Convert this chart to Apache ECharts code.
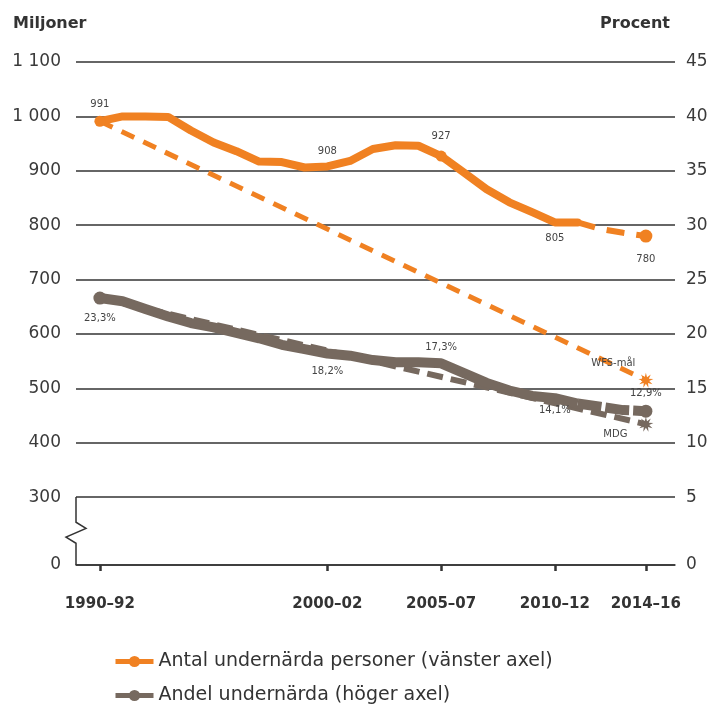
<!DOCTYPE html>
<html><head><meta charset="utf-8">
<script src="https://cdn.jsdelivr.net/npm/echarts@6.0.0/dist/echarts.min.js"></script>
<style>html,body{margin:0;padding:0;background:#fff}#c{width:716px;height:709px}</style>
</head><body><div id="c"></div>
<script>
// ---- data ----
const years = [1991,1992,1993,1994,1995,1996,1997,1998,1999,2000,2001,2002,2003,2004,2005,2006,2007,2008,2009,2010,2011,2012,2013,2014,2015];
const antal = [991,1000,1000,999,974,952,936,917,916,906,908,918,940,947,946,927,897,866,842,824,805,805,793,786,780];
const andel = [23.3,23.0,22.3,21.6,21.0,20.6,20.1,19.6,19.0,18.6,18.2,18.0,17.6,17.4,17.4,17.3,16.4,15.5,14.8,14.3,14.1,13.6,13.3,13.0,12.9];
const projectionFrom = 2012;
const periodYears = [1991, 2001, 2006, 2011, 2015];
const periodLabels = ['1990–92','2000–02','2005–07','2010–12','2014–16'];
const wfsYears = [1991, 2015];
const wfsTarget = [991, 515];
const mdgYears = [1991, 2015];
const mdgTarget = [23.3, 11.7];
const nameA = 'Antal undernärda personer (vänster axel)';
const nameB = 'Andel undernärda (höger axel)';

// ---- styles ----
const ORANGE = '#F08122', GRAY = '#76695F', INK = '#333333';
const FONT = 'DejaVu Sans';
const orangeMarks = [1991, 2006, 2015];
const grayMarks = [1991, 2015];
const orangeLabelPos = {1991:['top',6],2001:['top',9],2006:['top',9],2011:['bottom',10],2015:['bottom',12]};
const grayLabelPos = {1991:['bottom',9],2001:['bottom',12],2006:['top',10],2011:['bottom',6],2015:['top',6]};

function star(n, r1, r2){
  let d = '';
  for (let i = 0; i < n*2; i++){
    const a = Math.PI * i / n - Math.PI/2;
    const r = i % 2 ? r2 : r1;
    d += (i ? 'L' : 'M') + (50 + r*Math.cos(a)).toFixed(1) + ' ' + (50 + r*Math.sin(a)).toFixed(1);
  }
  return 'path://' + d + 'Z';
}
const ASTER = star(9, 50, 22);

function build(vals, from, to, marks, labelPos, fmt){
  const out = [];
  const last = years[years.length-1];
  years.forEach((y, i) => {
    if (y < from || y > to) return;
    const item = { value: [y, vals[i]] };
    const wantLabel = labelPos[y] && (to === last ? y >= from : y < projectionFrom);
    if (marks.includes(y)) { item.symbol = 'circle'; }
    else if (wantLabel) { item.symbol = 'circle'; item.symbolSize = 2; }
    else { item.symbol = 'none'; }
    if (wantLabel && (to !== last || y >= projectionFrom)) {
      item.label = { show: true, formatter: fmt(vals[i]), position: labelPos[y][0], distance: labelPos[y][1] };
    }
    out.push(item);
  });
  return out;
}
const fmtA = v => String(Math.round(v));
const fmtB = v => v.toFixed(1).replace('.', ',') + '%';
const labelStyle = { fontFamily: FONT, fontSize: 10, color: '#444' };

const chart = echarts.init(document.getElementById('c'), null, { renderer: 'canvas' });

const yLab = v => v >= 1000 ? Math.floor(v/1000) + ' ' + String(v % 1000).padStart(3, '0') : String(v);
const legendCommon = { orient: 'horizontal', left: 108, itemWidth: 38, itemHeight: 14, itemGap: 10,
  lineStyle: { width: 5, type: 'solid' },
  textStyle: { fontFamily: FONT, fontSize: 19, color: INK } };

chart.setOption({
  animation: false,
  backgroundColor: '#fff',
  textStyle: { fontFamily: FONT },
  grid: { left: 76, right: 41, top: 62, bottom: 144, containLabel: false },
  legend: [
    Object.assign({ data: [nameA], top: 647 }, legendCommon),
    Object.assign({ data: [nameB], top: 681 }, legendCommon)
  ],
  xAxis: {
    type: 'value', min: 1989.95, max: 2016.28,
    axisLine: { show: true, onZero: false, lineStyle: { color: INK, width: 1.5 } },
    axisTick: { show: true, customValues: periodYears, length: 6, lineStyle: { color: INK, width: 2.5 } },
    axisLabel: { customValues: periodYears, formatter: v => periodLabels[periodYears.indexOf(Math.round(v))] || '',
      fontFamily: FONT, fontWeight: 'bold', fontSize: 15, color: INK, margin: 32 },
    splitLine: { show: false }
  },
  yAxis: [
    { type: 'value', position: 'left', min: 0, max: 1100, interval: 100,
      breaks: [{ start: 0, end: 300, gap: '13.5%' }],
      breakArea: { show: false },
      axisLine: { show: false }, axisTick: { show: false },
      axisLabel: { formatter: yLab, fontFamily: FONT, fontSize: 17, color: '#3a3a3a', margin: 15 },
      splitLine: { show: true, lineStyle: { color: '#333', width: 1.5 } } },
    { type: 'value', position: 'right', min: 0, max: 45, interval: 5,
      breaks: [{ start: 0, end: 5, gap: '13.5%' }],
      breakArea: { show: false },
      axisLine: { show: false }, axisTick: { show: false },
      axisLabel: { fontFamily: FONT, fontSize: 17, color: '#3a3a3a', margin: 11 },
      splitLine: { show: false } }
  ],
  series: [
    { name: 'WFS-mål', type: 'line', yAxisIndex: 0, z: 2,
      data: wfsYears.map((y, i) => ({ value: [y, wfsTarget[i]], symbol: i === wfsYears.length-1 ? ASTER : 'none',
        label: i === wfsYears.length-1 ? { show: true, formatter: 'WFS-mål', position: 'left', offset: [2, -17], ...labelStyle } : { show: false } })),
      symbolSize: 15, showSymbol: true, itemStyle: { color: ORANGE },
      lineStyle: { color: ORANGE, width: 5, type: [14, 10] } },
    { name: 'MDG', type: 'line', yAxisIndex: 1, z: 2,
      data: mdgYears.map((y, i) => ({ value: [y, mdgTarget[i]], symbol: i === mdgYears.length-1 ? ASTER : 'none',
        label: i === mdgYears.length-1 ? { show: true, formatter: 'MDG', position: 'left', offset: [-6, 10], ...labelStyle } : { show: false } })),
      symbolSize: 15, showSymbol: true, itemStyle: { color: GRAY },
      lineStyle: { color: GRAY, width: 6, type: [16, 8] } },
    // projections (dashed) first, so the legend takes its icon from the solid series
    { name: nameA, type: 'line', yAxisIndex: 0, z: 4, symbol: 'circle', symbolSize: 13, showSymbol: true,
      data: build(antal, projectionFrom, years[years.length-1], orangeMarks, orangeLabelPos, fmtA),
      itemStyle: { color: ORANGE }, lineStyle: { color: ORANGE, width: 6, type: [18, 12] },
      label: labelStyle },
    { name: nameB, type: 'line', yAxisIndex: 1, z: 4, symbol: 'circle', symbolSize: 13, showSymbol: true,
      data: build(andel, projectionFrom, years[years.length-1], grayMarks, grayLabelPos, fmtB),
      itemStyle: { color: GRAY }, lineStyle: { color: GRAY, width: 10, type: [24, 4] },
      label: labelStyle },
    { name: nameA, type: 'line', yAxisIndex: 0, z: 4, symbol: 'circle', symbolSize: 11, showSymbol: true,
      data: build(antal, years[0], projectionFrom, orangeMarks, orangeLabelPos, fmtA),
      itemStyle: { color: ORANGE }, lineStyle: { color: ORANGE, width: 8, cap: 'round', join: 'round' },
      label: labelStyle },
    { name: nameB, type: 'line', yAxisIndex: 1, z: 4, symbol: 'circle', symbolSize: 13, showSymbol: true,
      data: build(andel, years[0], projectionFrom, grayMarks, grayLabelPos, fmtB),
      itemStyle: { color: GRAY }, lineStyle: { color: GRAY, width: 10, join: 'round' },
      label: labelStyle }
  ]
});

// axis titles, the 300/5 grid line and the broken-axis mark on the left
const x0 = 76, x1 = 716 - 41;
const yTop = chart.convertToPixel({ yAxisIndex: 0 }, 300);
const yBot = chart.convertToPixel({ yAxisIndex: 0 }, 0);
const h = yBot - yTop;
chart.setOption({
  graphic: [
    { type: 'text', left: 13, top: 16, style: { text: 'Miljoner', font: 'bold 16px "DejaVu Sans"', fill: INK } },
    { type: 'text', right: 46, top: 16, style: { text: 'Procent', font: 'bold 16px "DejaVu Sans"', fill: INK } },
    { type: 'line', silent: true, z: 1, shape: { x1: x0, y1: yTop, x2: x1, y2: yTop }, style: { stroke: '#333', lineWidth: 1.5 } },
    { type: 'polyline', silent: true, z: 10,
      shape: { points: [[x0, yTop], [x0, yTop + h*0.37], [x0 + 10, yTop + h*0.46], [x0 - 10, yTop + h*0.59], [x0, yTop + h*0.68], [x0, yBot]] },
      style: { stroke: INK, lineWidth: 1.5, fill: null } }
  ]
});
</script>
</body></html>
